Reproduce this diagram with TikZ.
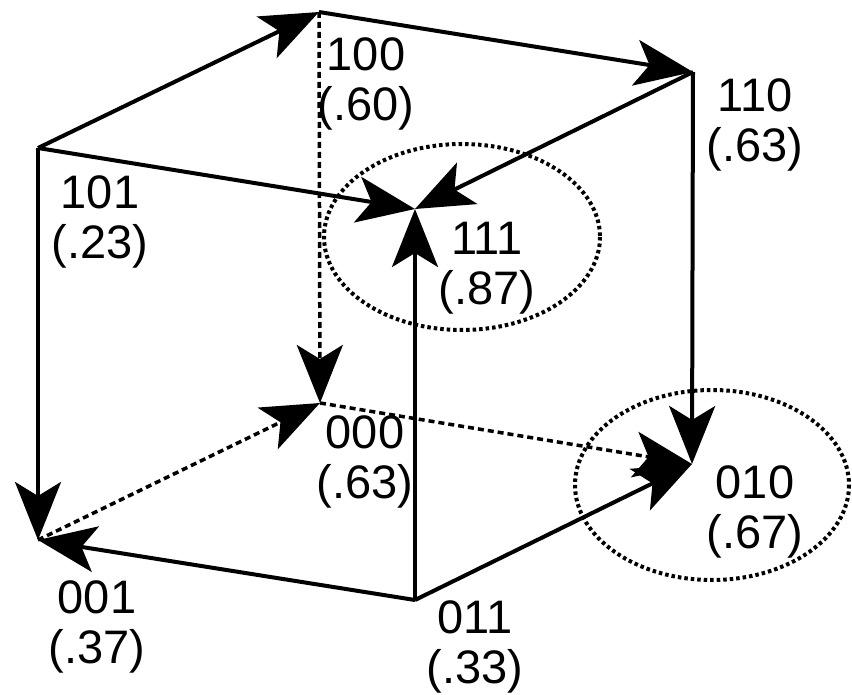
\documentclass[tikz,border=0pt]{standalone}
\usepackage{fontspec}
\setmainfont{Liberation Sans}
\usetikzlibrary{arrows.meta}

\begin{document}
\begin{tikzpicture}[x=1pt, y=-1pt,
edge/.style={-{Stealth[length=58pt, width=46pt, inset=14pt]}, line width=4pt},
hidden/.style={edge, line width=3.5pt, dash pattern=on 6pt off 4pt},
ring/.style={line width=4pt, dash pattern=on 3.5pt off 3pt},
lbl/.style={align=center, inner sep=0pt, font=\fontsize{47}{50}\selectfont}
]
\useasboundingbox (0,0) rectangle (852,695);
% cube corners
\coordinate (v100) at (319,12);
\coordinate (v110) at (693,72);
\coordinate (v101) at (38,148);
\coordinate (v111) at (415,209);
\coordinate (v000) at (320,403);
\coordinate (v010) at (692,464);
\coordinate (v001) at (38,540);
\coordinate (v011) at (415,600);
% dotted rings
\draw[ring] (462,237) ellipse [x radius=138, y radius=93];
\draw[ring] (712,485) ellipse [x radius=137, y radius=95];
% edges
\draw[edge] (v101) -- (v100);
\draw[edge] (v100) -- (v110);
\draw[edge] (v101) -- (v111);
\draw[edge] (v110) -- (v111);
\draw[edge] (v011) -- (v111);
\draw[edge] (v110) -- (v010);
\draw[edge] (v101) -- (v001);
\draw[edge] (v011) -- (v001);
\draw[edge] (v011) -- (v010);
\draw[hidden] (v100) -- (v000);
\draw[hidden] (v001) -- (v000);
\draw[hidden] (v000) -- (v010);
% labels
\node[lbl] (l100) at (366,84) {100\\(.60)};
\node[lbl] (l110) at (755,125) {110\\(.63)};
\node[lbl] (l101) at (100,222) {101\\(.23)};
\node[lbl] (l111) at (487,268) {111\\(.87)};
\node[lbl] (l000) at (365,462) {000\\(.63)};
\node[lbl] (l010) at (755,512) {010\\(.67)};
\node[lbl] (l001) at (97,627) {001\\(.37)};
\node[lbl] (l011) at (475,647) {011\\(.33)};
\end{tikzpicture}
\end{document}
